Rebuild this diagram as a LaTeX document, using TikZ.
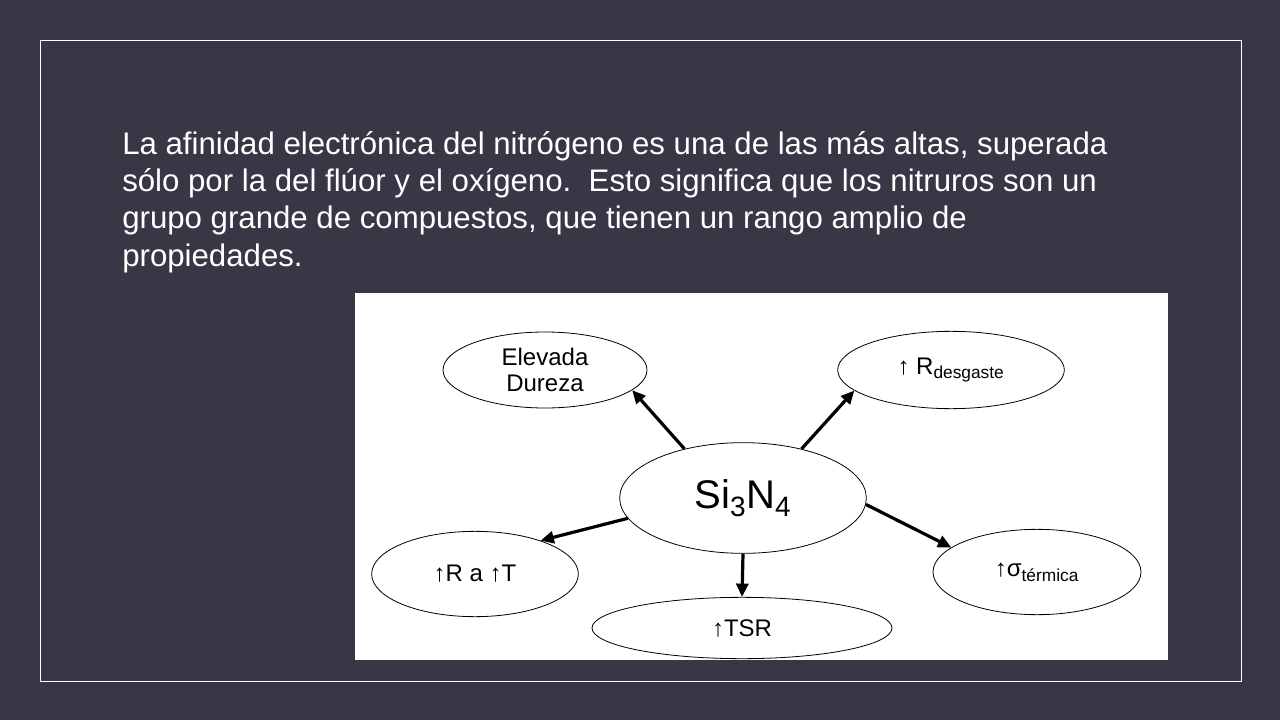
\documentclass[tikz,border=0pt]{standalone}
\usepackage{fontspec}
\setmainfont{Liberation Sans}
\usetikzlibrary{shapes.geometric,arrows.meta}
\definecolor{bg}{HTML}{393646}
\tikzset{
  ell/.style={draw=black,line width=0.6pt,fill=white,ellipse,inner sep=0pt,font=\fontsize{18}{19}\selectfont,align=center},
  arr/.style={-{Triangle[length=10pt,width=9pt]},line width=2.4pt,black}
}
\begin{document}
\begin{tikzpicture}[x=0.75pt,y=-0.75pt]
\fill[bg] (0,0) rectangle (1280,720);
\useasboundingbox (0,0) rectangle (1280,720);
\draw[white,line width=0.6pt] (40,40) rectangle (1241,681);
\node[anchor=north west,text=white,align=left,font=\fontsize{23.4}{28}\selectfont,inner sep=0pt] (txt) at (122,131)
{La afinidad electrónica del nitrógeno es una de las más altas, superada\\
sólo por la del flúor y el oxígeno.\ \ Esto significa que los nitruros son un\\
grupo grande de compuestos, que tienen un rango amplio de\\
propiedades.};
\fill[white] (355,293) rectangle (1168,660);
\begin{scope}
\clip (355,293) rectangle (1168,660);
\node[ell,minimum width=153pt,minimum height=57pt] (ed) at (545,370) {Elevada\\Dureza};
\node[ell,minimum width=170pt,minimum height=58pt] (rd) at (951,370) {↑ R\textsubscript{\fontsize{13}{14}\selectfont desgaste}};
\node[ell,minimum width=185pt,minimum height=83pt,font=\fontsize{30}{32}\selectfont] (si) at (743,498) {Si\textsubscript{3}N\textsubscript{4}};
\node[ell,minimum width=155pt,minimum height=64pt] (rt) at (475,574) {↑R a ↑T};
\node[ell,minimum width=225pt,minimum height=46pt] (ts) at (742,628) {↑TSR};
\node[ell,minimum width=156pt,minimum height=64pt] (sg) at (1037,572) {↑σ\textsubscript{\fontsize{13}{14}\selectfont térmica}};
\draw[arr] (si.140) -- (ed.-13);
\draw[arr] (si.40) -- (rd.-168);
\draw[arr] (si.190) -- (rt.27);
\draw[arr] (si.south) -- (ts.north);
\draw[arr] (si.-3) -- (sg.164);
\end{scope}
\end{tikzpicture}
\end{document}
